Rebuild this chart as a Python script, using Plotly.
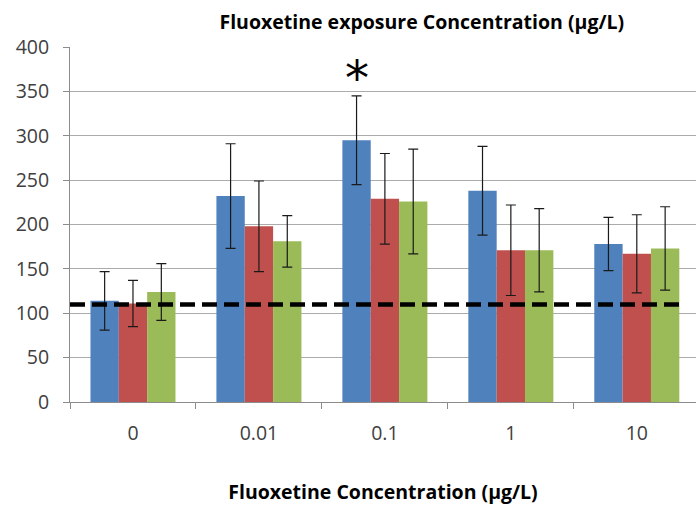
import plotly.graph_objects as go

categories = ["0", "0.01", "0.1", "1", "10"]
blue_vals = [114, 232, 295, 238, 178]
blue_err = [33, 59, 50, 50, 30]
red_vals = [111, 198, 229, 171, 167]
red_err = [26, 51, 51, 51, 44]
green_vals = [124, 181, 226, 171, 173]
green_err = [32, 29, 59, 47, 47]
control_level = 110
star_category = "0.1"
star_y = 374
y_ticks = [0, 50, 100, 150, 200, 250, 300, 350, 400]

FONT = "Open Sans"
fig = go.Figure()
for vals, errs, col in [(blue_vals, blue_err, "#4f81bd"),
                        (red_vals, red_err, "#c0504d"),
                        (green_vals, green_err, "#9bbb59")]:
    fig.add_trace(go.Bar(
        x=categories, y=vals, marker=dict(color=col, line=dict(width=0)),
        error_y=dict(type="data", array=errs, visible=True, color="#1a1a1a",
                     thickness=1.2, width=5),
        showlegend=False))

fig.add_shape(type="line", xref="paper", yref="y", x0=0, x1=0.979,
              y0=control_level, y1=control_level,
              line=dict(color="black", width=4.5, dash="15px,7px"))

fig.add_annotation(x=categories.index(star_category), y=star_y, text="*",
                   showarrow=False, xshift=-28, yshift=-8,
                   font=dict(size=48, color="black", family="DejaVu Sans"))

fig.update_layout(
    width=696, height=505,
    margin=dict(l=70, r=0, t=47, b=103, autoexpand=False),
    paper_bgcolor="white", plot_bgcolor="white",
    barmode="group", bargap=0.325, bargroupgap=0,
    title=dict(text="<b>Fluoxetine exposure Concentration (μg/L)</b>",
               x=0.606, xanchor="center", xref="container",
               yref="container", y=1 - 22 / 505, yanchor="middle",
               automargin=False,
               font=dict(family=FONT, size=19.5, color="black")),
    font=dict(family=FONT),
)
fig.update_xaxes(
    type="category", range=[-0.5, 4.47], automargin=False,
    showline=True, linecolor="#8c8c8c", linewidth=1,
    ticks="outside", tickson="boundaries", ticklen=6, tickcolor="#8c8c8c",
    ticklabelstandoff=14,
    tickfont=dict(size=19.5, color="#404040", family=FONT),
    title=dict(text="<b>Fluoxetine Concentration (μg/L)</b>", standoff=42,
               font=dict(size=19.5, color="black", family=FONT)),
)
fig.update_yaxes(
    range=[0, 400], tickvals=y_ticks, automargin=False,
    showgrid=True, gridcolor="#ababab", gridwidth=1,
    showline=True, linecolor="#8c8c8c", linewidth=1,
    ticks="outside", ticklen=6, tickcolor="#8c8c8c",
    ticklabelstandoff=10,
    tickfont=dict(size=19.5, color="#404040", family=FONT),
    zeroline=False,
)

fig.write_html("out.html", config={"displayModeBar": False},
               post_script="document.body.style.margin='0';")
